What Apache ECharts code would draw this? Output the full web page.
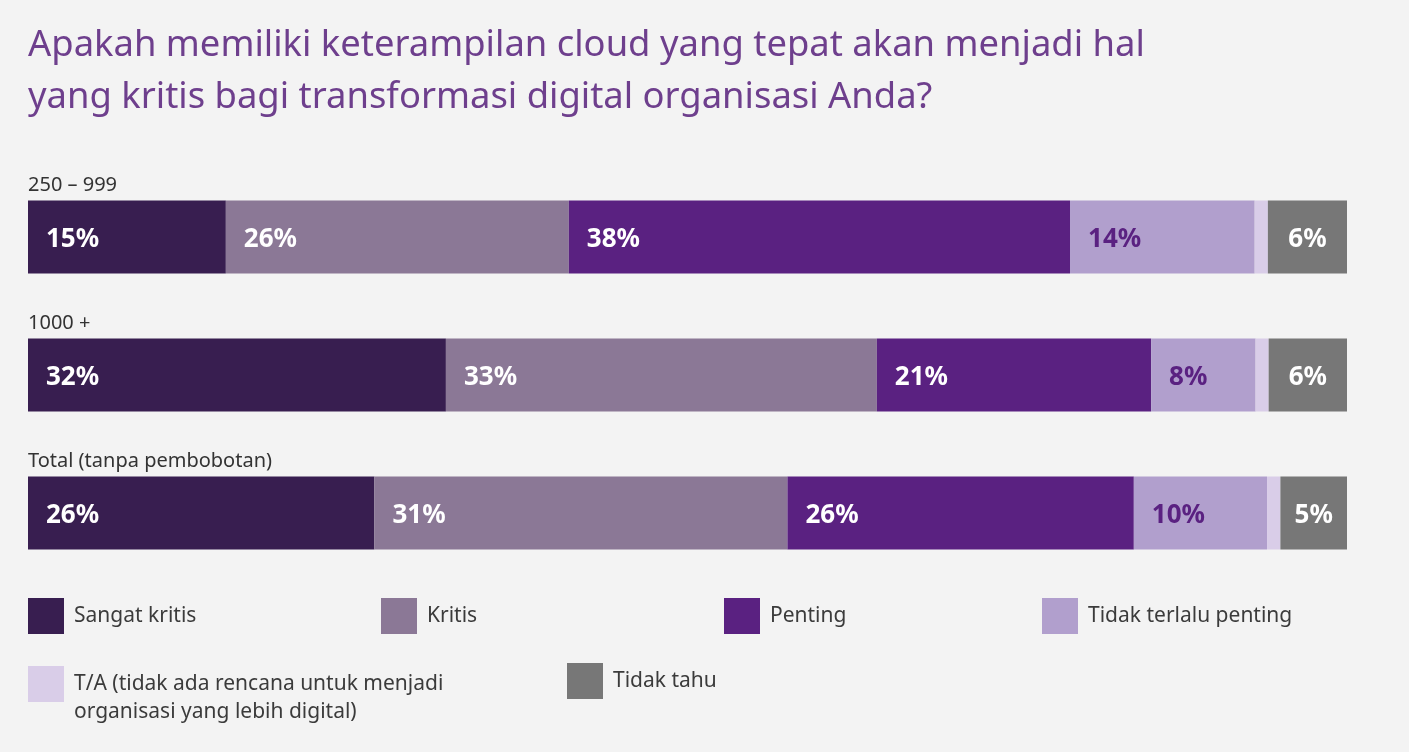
<!DOCTYPE html>
<html><head><meta charset="utf-8">
<script src="https://cdn.jsdelivr.net/npm/echarts@6/dist/echarts.min.js"></script>
<style>html,body{margin:0;padding:0;background:#f3f3f3;}#c{width:1409px;height:752px;}</style>
</head><body><div id="c"></div>
<script>
const titleText = 'Apakah memiliki keterampilan cloud yang tepat akan menjadi hal\nyang kritis bagi transformasi digital organisasi Anda?';
const categories = ['250 – 999', '1000 +', 'Total (tanpa pembobotan)'];
const seriesNames = ['Sangat kritis', 'Kritis', 'Penting', 'Tidak terlalu penting',
  'T/A (tidak ada rencana untuk menjadi\norganisasi yang lebih digital)', 'Tidak tahu'];
const sangatKritis = [15, 32, 26];
const kritis = [26, 33, 31];
const penting = [38, 21, 26];
const tidakTerlaluPenting = [14, 8, 10];
const tA = [1, 1, 1];
const tidakTahu = [6, 6, 5];

const values = [sangatKritis, kritis, penting, tidakTerlaluPenting, tA, tidakTahu];
const colors = ['#381e50', '#8b7896', '#5a2181', '#b19fcd', '#d9cde8', '#777777'];
const labelColors = ['#ffffff', '#ffffff', '#ffffff', '#5a2181', null, '#ffffff'];
const rowTotals = categories.map((_, i) => values.reduce((s, arr) => s + arr[i], 0));

const FONT = '"Noto Sans", "Open Sans", sans-serif';

const series = values.map((arr, si) => ({
  name: seriesNames[si],
  type: 'bar',
  stack: 'all',
  barWidth: 73,
  itemStyle: { color: colors[si] },
  data: arr.map((v, i) => ({ value: v / rowTotals[i] * 100, raw: v })),
  label: {
    show: labelColors[si] !== null,
    position: si === 5 ? 'inside' : 'insideLeft',
    distance: 18,
    offset: [0, 3],
    color: labelColors[si] || '#fff',
    fontFamily: FONT,
    fontSize: 26,
    fontWeight: 'bold',
    formatter: p => p.data.raw + '%'
  },
  emphasis: { disabled: true }
}));

const legendPos = [
  [28, 598], [381, 598], [724, 598], [1042, 598], [28, 642], [567, 663]
];
const legends = seriesNames.map((n, i) => ({
  data: [n],
  left: legendPos[i][0],
  top: legendPos[i][1],
  padding: 0,
  itemWidth: 36,
  itemHeight: 36,
  itemGap: 0,
  icon: 'rect',
  selectedMode: false,
  formatter: i === 4 ? (name => ' \n' + name) : (name => name),
  textStyle: {
    fontFamily: FONT, fontSize: 21, color: '#3b3b3b', lineHeight: 28,
    padding: [0, 0, 0, 5]
  }
}));

const chart = echarts.init(document.getElementById('c'));
chart.setOption({
  backgroundColor: '#f3f3f3',
  animation: false,
  title: {
    text: titleText,
    left: 28, top: 20, padding: 0,
    textStyle: { fontFamily: FONT, fontSize: 36.4, fontWeight: 'normal', color: '#6e3f8d', lineHeight: 52 }
  },
  legend: legends,
  grid: { left: 28, right: 62, top: 168, bottom: 170 },
  xAxis: { type: 'value', min: 0, max: 100, show: false },
  yAxis: {
    type: 'category',
    data: categories,
    inverse: true,
    axisLine: { show: false },
    axisTick: { show: false },
    axisLabel: {
      inside: true,
      margin: 0,
      align: 'left',
      verticalAlign: 'bottom',
      padding: [0, 0, 42, 0],
      fontFamily: FONT, fontSize: 20, color: '#333333'
    }
  },
  series: series
});
</script></body></html>
